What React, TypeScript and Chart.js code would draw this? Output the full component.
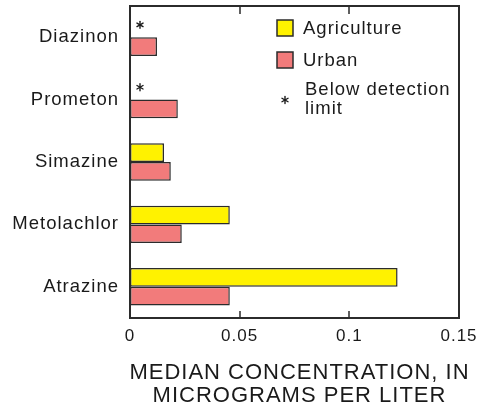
import React, { useEffect, useRef } from 'react';
import { Chart, registerables } from 'chart.js';

Chart.register(...registerables);

// ---- data ----
const categories = ['Diazinon', 'Prometon', 'Simazine', 'Metolachlor', 'Atrazine'];
const seriesNames = ['Agriculture', 'Urban'];
const agriculture: (number | null)[] = [null, null, 0.0155, 0.0455, 0.122];
const urban: number[] = [0.0123, 0.0218, 0.0186, 0.0236, 0.0455];
const belowDetection = [true, true, false, false, false]; // agriculture values below detection limit
const tickValues = [0, 0.05, 0.1, 0.15];
const tickLabels = ['0', '0.05', '0.1', '0.15'];
const detectionLabel = ['Below detection', 'limit'];
const axisTitle = ['MEDIAN CONCENTRATION, IN', 'MICROGRAMS PER LITER'];

// ---- styles ----
const FONT = '"Liberation Sans", Arial, Helvetica, sans-serif';
const TEXT = '#1a1a1a';
const LINE = '#2b2b2b';
const AG_COLOR = '#FFF200';
const URB_COLOR = '#F27B7B';

function setSpacing(chart: any) {
  try {
    (chart.ctx as any).letterSpacing = '1px';
  } catch (e) {}
}

function drawAsterisk(ctx: CanvasRenderingContext2D, cx: number, cy: number, r: number) {
  ctx.save();
  ctx.strokeStyle = TEXT;
  ctx.lineWidth = 1.4;
  ctx.lineCap = 'round';
  for (let k = 0; k < 3; k++) {
    const a = Math.PI / 2 + (k * Math.PI) / 3;
    ctx.beginPath();
    ctx.moveTo(cx + r * Math.cos(a), cy + r * Math.sin(a));
    ctx.lineTo(cx - r * Math.cos(a), cy - r * Math.sin(a));
    ctx.stroke();
  }
  ctx.restore();
}

const decorPlugin = {
  id: 'decor',
  afterInit(chart: any) {
    setSpacing(chart);
  },
  beforeUpdate(chart: any) {
    setSpacing(chart);
  },
  beforeDraw(chart: any) {
    setSpacing(chart);
  },
  afterDraw(chart: any) {
    const ctx: CanvasRenderingContext2D = chart.ctx;
    const { left, right, top, bottom } = chart.chartArea;
    const xs = chart.scales.x;
    ctx.save();
    // frame
    ctx.strokeStyle = LINE;
    ctx.lineWidth = 2;
    ctx.strokeRect(left, top, right - left, bottom - top);
    // inward ticks
    ctx.lineWidth = 1.5;
    tickValues.forEach((v) => {
      if (v <= tickValues[0] || v >= tickValues[tickValues.length - 1]) return;
      const px = Math.round(xs.getPixelForValue(v));
      ctx.beginPath();
      ctx.moveTo(px, bottom);
      ctx.lineTo(px, bottom - 7);
      ctx.moveTo(px, top);
      ctx.lineTo(px, top + 8);
      ctx.stroke();
    });
    // asterisks for below-detection values
    const meta = chart.getDatasetMeta(0);
    const ys = chart.scales.y;
    belowDetection.forEach((b, i) => {
      if (!b) return;
      let y = meta.data[i] ? meta.data[i].y : NaN;
      if (!isFinite(y)) {
        const step = ys.height / categories.length;
        y = ys.getPixelForValue(i) - step * 0.15;
      }
      drawAsterisk(ctx, left + 10, y - 3, 3.5);
    });
    // legend
    const bx = right - 182;
    const bs = 16;
    const rows = [top + 14, top + 46];
    const fills = [AG_COLOR, URB_COLOR];
    ctx.font = `18.5px ${FONT}`;
    ctx.textBaseline = 'middle';
    ctx.textAlign = 'left';
    rows.forEach((ry, i) => {
      ctx.fillStyle = fills[i];
      ctx.fillRect(bx, ry, bs, bs);
      ctx.strokeStyle = LINE;
      ctx.lineWidth = 1.5;
      ctx.strokeRect(bx, ry, bs, bs);
      ctx.fillStyle = TEXT;
      ctx.fillText(seriesNames[i], right - 156, ry + bs / 2 + 1);
    });
    drawAsterisk(ctx, bx + 8, top + 94, 3.5);
    ctx.fillStyle = TEXT;
    ctx.fillText(detectionLabel[0], right - 154, top + 84);
    ctx.fillText(detectionLabel[1], right - 154, top + 103);
    // x-axis title (two lines)
    ctx.font = `22px ${FONT}`;
    ctx.textAlign = 'center';
    const tx = (left + right) / 2 + 5;
    axisTitle.forEach((line, i) => {
      ctx.fillText(line, tx, bottom + 55 + i * 23);
    });
    ctx.restore();
  },
};

export default function App() {
  const ref = useRef<HTMLCanvasElement>(null);
  useEffect(() => {
    const chart = new Chart(ref.current as HTMLCanvasElement, {
      type: 'bar',
      data: {
        labels: categories,
        datasets: [
          {
            label: seriesNames[0],
            data: agriculture as any,
            backgroundColor: AG_COLOR,
            borderColor: LINE,
            borderWidth: 1.5,
            borderSkipped: false,
            categoryPercentage: 0.6,
            barPercentage: 1,
          },
          {
            label: seriesNames[1],
            data: urban,
            backgroundColor: URB_COLOR,
            borderColor: LINE,
            borderWidth: 1.5,
            borderSkipped: false,
            categoryPercentage: 0.6,
            barPercentage: 1,
          },
        ],
      },
      options: {
        indexAxis: 'y',
        responsive: false,
        animation: false,
        devicePixelRatio: 1,
        layout: { padding: { top: 6, right: 24, left: 0, bottom: 0 } },
        plugins: { legend: { display: false }, tooltip: { enabled: false } },
        scales: {
          x: {
            type: 'linear',
            min: tickValues[0],
            max: tickValues[tickValues.length - 1],
            grid: { display: false },
            border: { display: false },
            afterBuildTicks: (s: any) => {
              s.ticks = tickValues.map((v) => ({ value: v }));
            },
            afterFit: (s: any) => {
              s.height = 95;
              s.paddingLeft = 0;
              s.paddingRight = 0;
            },
            ticks: {
              padding: 0,
              color: TEXT,
              autoSkip: false,
              maxRotation: 0,
              font: { family: FONT, size: 17 },
              callback: (_v: any, i: number) => tickLabels[i],
            },
          },
          y: {
            grid: { display: false },
            border: { display: false },
            afterFit: (s: any) => {
              s.width = 130;
              s.paddingTop = 0;
              s.paddingBottom = 0;
            },
            ticks: {
              padding: 3,
              color: TEXT,
              font: { family: FONT, size: 18.5 },
            },
          },
        },
      } as any,
      plugins: [decorPlugin],
    });
    return () => chart.destroy();
  }, []);
  return (
    <div style={{ position: 'absolute', left: 0, top: 0, width: 483, height: 413, background: '#fff' }}>
      <canvas ref={ref} width={483} height={413} style={{ display: 'block' }} />
    </div>
  );
}
